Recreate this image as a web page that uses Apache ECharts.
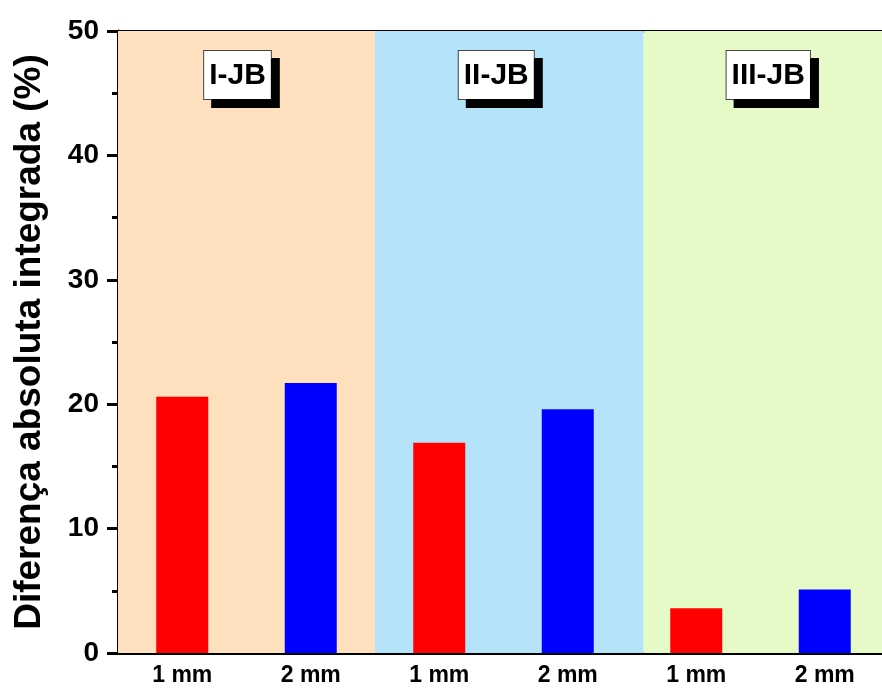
<!DOCTYPE html>
<html><head><meta charset="utf-8">
<script src="https://cdn.jsdelivr.net/npm/echarts@6/dist/echarts.min.js"></script>
<style>html,body{margin:0;padding:0;background:#fff}#c{width:882px;height:691px}</style>
</head><body><div id="c"></div>
<script>
var categories = ['1 mm', '2 mm', '1 mm', '2 mm', '1 mm', '2 mm'];
var values = [20.6, 21.7, 16.9, 19.6, 3.6, 5.1];
var barColors = ['#ff0000', '#0000ff', '#ff0000', '#0000ff', '#ff0000', '#0000ff'];
var groupNames = ['I-JB', 'II-JB', 'III-JB'];
var groupBounds = [[0, 2], [2, 4.09], [4.09, 6]];
var groupColors = ['#fee0bf', '#b5e3f9', '#e5fac6'];
var yTicks = [0, 10, 20, 30, 40, 50];

var chart = echarts.init(document.getElementById('c'));
var font = 'Arial, "Liberation Sans", sans-serif';
chart.setOption({
  animation: false,
  grid: { left: 118, top: 31, width: 771, bottom: 38, outerBoundsMode: 'none', containLabel: false },
  xAxis: [{
    type: 'category', data: categories, boundaryGap: true,
    axisLine: { lineStyle: { color: '#000', width: 3 } },
    axisTick: { show: false },
    axisLabel: { color: '#000', fontWeight: 'bold', fontSize: 23, fontFamily: font, margin: 11 },
    splitLine: { show: false }
  }, {
    type: 'value', min: 0, max: 6, position: 'top',
    axisLine: { show: true, onZero: false, lineStyle: { color: '#000', width: 3 } },
    axisTick: { show: false }, axisLabel: { show: false }, splitLine: { show: false }
  }],
  yAxis: {
    type: 'value', min: yTicks[0], max: yTicks[yTicks.length - 1], interval: 10,
    axisLine: { show: true, lineStyle: { color: '#000', width: 3 } },
    axisTick: { show: true, length: 11, lineStyle: { width: 3, color: '#000' } },
    minorTick: { show: true, splitNumber: 2, length: 6, lineStyle: { width: 3, color: '#000' } },
    axisLabel: { color: '#000', fontWeight: 'bold', fontSize: 28, fontFamily: font, margin: 19 },
    splitLine: { show: false },
    name: 'Diferença absoluta integrada (%)', nameLocation: 'middle', nameGap: 70,
    nameTextStyle: { color: '#000', fontWeight: 'bold', fontSize: 37, fontFamily: font }
  },
  series: [{
    type: 'line', xAxisIndex: 1, data: [], z: 1, silent: true,
    markArea: {
      silent: true,
      data: groupBounds.map(function (b, i) {
        return [{
          xAxis: b[0], yAxis: 50, name: groupNames[i],
          itemStyle: { color: groupColors[i] },
          label: { offset: [[-9, 0], [-13, 0], [2, 0]][i] }
        }, { xAxis: b[1], yAxis: 0 }];
      }),
      label: {
        show: true, position: 'insideTop', distance: 20,
        color: '#000', fontWeight: 'bold', fontSize: 30, fontFamily: font,
        backgroundColor: '#fff', borderColor: '#444', borderWidth: 1,
        padding: [10, 5, 8, 5],
        shadowColor: '#000', shadowBlur: 0, shadowOffsetX: 8, shadowOffsetY: 8
      }
    }
  }, {
    type: 'bar', xAxisIndex: 0, z: 3, barWidth: 52,
    data: values.map(function (v, i) { return { value: v, itemStyle: { color: barColors[i] } }; })
  }]
});
</script></body></html>
